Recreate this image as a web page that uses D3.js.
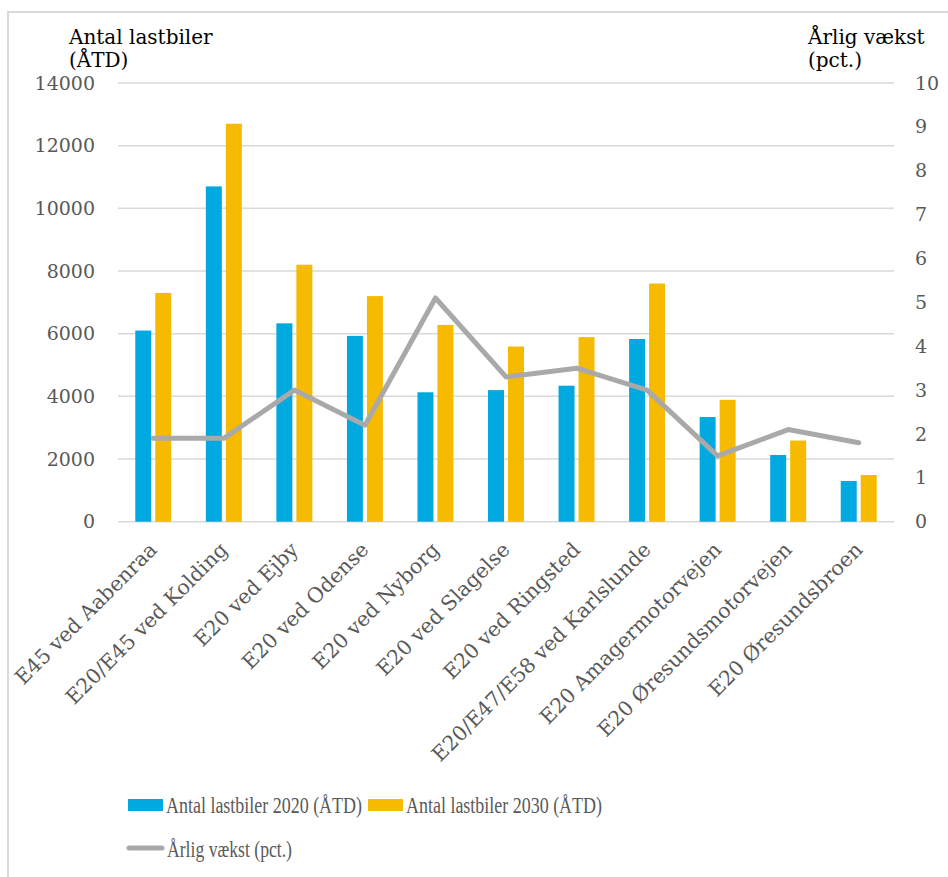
<!DOCTYPE html>
<html>
<head>
<meta charset="utf-8">
<script src="https://cdn.jsdelivr.net/npm/d3@7"></script>
<style>
  body { margin: 0; background: #fff; }
  svg { display: block; }
</style>
</head>
<body>
<div id="chart"></div>
<script>
// data
var categories = ["E45 ved Aabenraa", "E20/E45 ved Kolding", "E20 ved Ejby", "E20 ved Odense",
    "E20 ved Nyborg", "E20 ved Slagelse", "E20 ved Ringsted", "E20/E47/E58 ved Karlslunde",
    "E20 Amagermotorvejen", "E20 Øresundsmotorvejen", "E20 Øresundsbroen"];
var trucks2020 = [6100, 10700, 6330, 5930, 4130, 4200, 4340, 5830, 3340, 2130, 1300];
var trucks2030 = [7300, 12700, 8200, 7200, 6280, 5590, 5890, 7600, 3890, 2590, 1490];
var growth = [1.9, 1.9, 3.0, 2.2, 5.1, 3.3, 3.5, 3.0, 1.5, 2.1, 1.8];
var leftTicks = [0, 2000, 4000, 6000, 8000, 10000, 12000, 14000];
var rightTicks = [0, 1, 2, 3, 4, 5, 6, 7, 8, 9, 10];
var seriesNames = ["Antal lastbiler 2020 (ÅTD)", "Antal lastbiler 2030 (ÅTD)", "Årlig vækst (pct.)"];

var blue = "#00A9E0", yellow = "#F6BA00", grey = "#A9A9A9";
var serif = "'DejaVu Serif', serif";
var serif2 = "'Liberation Serif', serif";

var width = 948, height = 877;
var plotL = 118, plotR = 894, plotT = 83, plotB = 521.7;

var svg = d3.select("#chart").append("svg")
    .attr("width", width)
    .attr("height", height);

// outer frame
svg.append("rect")
    .attr("x", 8).attr("y", 12)
    .attr("width", 960).attr("height", 900)
    .attr("fill", "none")
    .attr("stroke", "#d9d9d9")
    .attr("stroke-width", 2);

var x0 = d3.scaleBand()
    .domain(categories)
    .range([plotL, plotR])
    .paddingInner(0.49)
    .paddingOuter(0.245);

var x1 = d3.scaleBand()
    .domain([0, 1])
    .range([0, x0.bandwidth()])
    .paddingInner(0.2);

var y = d3.scaleLinear().domain([0, 14000]).range([plotB, plotT]);
var y2 = d3.scaleLinear().domain([0, 10]).range([plotB, plotT]);

// gridlines
svg.append("g")
    .selectAll("line")
    .data(leftTicks)
    .join("line")
    .attr("x1", plotL).attr("x2", plotR)
    .attr("y1", d => y(d)).attr("y2", d => y(d))
    .attr("stroke", "#d9d9d9")
    .attr("stroke-width", 1.5);

// left axis labels
var yAxis = d3.axisLeft(y).tickValues(leftTicks).tickSize(0).tickPadding(23).tickFormat(d => d);
var gy = svg.append("g").attr("transform", "translate(" + plotL + ",0)").call(yAxis);
gy.select(".domain").remove();
gy.selectAll("text")
    .attr("font-family", serif)
    .attr("font-size", 19)
    .attr("fill", "#595959");

// right axis labels
var y2Axis = d3.axisRight(y2).tickValues(rightTicks).tickSize(0).tickPadding(21).tickFormat(d => d);
var gy2 = svg.append("g").attr("transform", "translate(" + plotR + ",0)").call(y2Axis);
gy2.select(".domain").remove();
gy2.selectAll("text")
    .attr("font-family", serif)
    .attr("font-size", 19)
    .attr("fill", "#595959");

// bars
var groups = svg.append("g")
    .selectAll("g")
    .data(categories)
    .join("g")
    .attr("transform", d => "translate(" + x0(d) + ",0)");

groups.append("rect")
    .attr("x", x1(0))
    .attr("width", x1.bandwidth())
    .attr("y", (d, i) => y(trucks2020[i]))
    .attr("height", (d, i) => plotB - y(trucks2020[i]))
    .attr("fill", blue);

groups.append("rect")
    .attr("x", x1(1))
    .attr("width", x1.bandwidth())
    .attr("y", (d, i) => y(trucks2030[i]))
    .attr("height", (d, i) => plotB - y(trucks2030[i]))
    .attr("fill", yellow);

// growth line
svg.append("path")
    .datum(growth)
    .attr("fill", "none")
    .attr("stroke", grey)
    .attr("stroke-width", 5)
    .attr("stroke-linejoin", "round")
    .attr("stroke-linecap", "round")
    .attr("d", d3.line()
        .x((d, i) => x0(categories[i]) + x0.bandwidth() / 2)
        .y(d => y2(d)));

// category labels
svg.append("g")
    .selectAll("text")
    .data(categories)
    .join("text")
    .attr("transform", d => "translate(" + (x0(d) + x0.bandwidth() / 2 + 5) + ",551) rotate(-45)")
    .attr("text-anchor", "end")
    .attr("font-family", serif)
    .attr("font-size", 20.5)
    .attr("fill", "#595959")
    .text(d => d);

// axis titles
var titleL = svg.append("text")
    .attr("x", 69).attr("y", 44)
    .attr("font-family", serif)
    .attr("font-size", 20)
    .attr("fill", "#000");
titleL.append("tspan").attr("x", 69).attr("dy", 0).text("Antal lastbiler");
titleL.append("tspan").attr("x", 69).attr("dy", 23).text("(ÅTD)");

var titleR = svg.append("text")
    .attr("x", 808).attr("y", 44)
    .attr("font-family", serif)
    .attr("font-size", 20)
    .attr("fill", "#000");
titleR.append("tspan").attr("x", 808).attr("dy", 0).text("Årlig vækst");
titleR.append("tspan").attr("x", 808).attr("dy", 23).text("(pct.)");

// legend
var legend = svg.append("g").attr("font-family", serif2).attr("font-size", 23).attr("fill", "#595959");

legend.append("rect").attr("x", 128).attr("y", 799).attr("width", 35).attr("height", 12).attr("fill", blue);
legend.append("text").attr("x", 166).attr("y", 813)
    .attr("textLength", 196).attr("lengthAdjust", "spacingAndGlyphs")
    .text(seriesNames[0]);

legend.append("rect").attr("x", 368).attr("y", 799).attr("width", 35).attr("height", 12).attr("fill", yellow);
legend.append("text").attr("x", 406).attr("y", 813)
    .attr("textLength", 196).attr("lengthAdjust", "spacingAndGlyphs")
    .text(seriesNames[1]);

legend.append("line")
    .attr("x1", 129).attr("x2", 162).attr("y1", 848).attr("y2", 848)
    .attr("stroke", grey).attr("stroke-width", 5).attr("stroke-linecap", "round");
legend.append("text").attr("x", 167).attr("y", 857)
    .attr("textLength", 125).attr("lengthAdjust", "spacingAndGlyphs")
    .text(seriesNames[2]);
</script>
</body>
</html>
